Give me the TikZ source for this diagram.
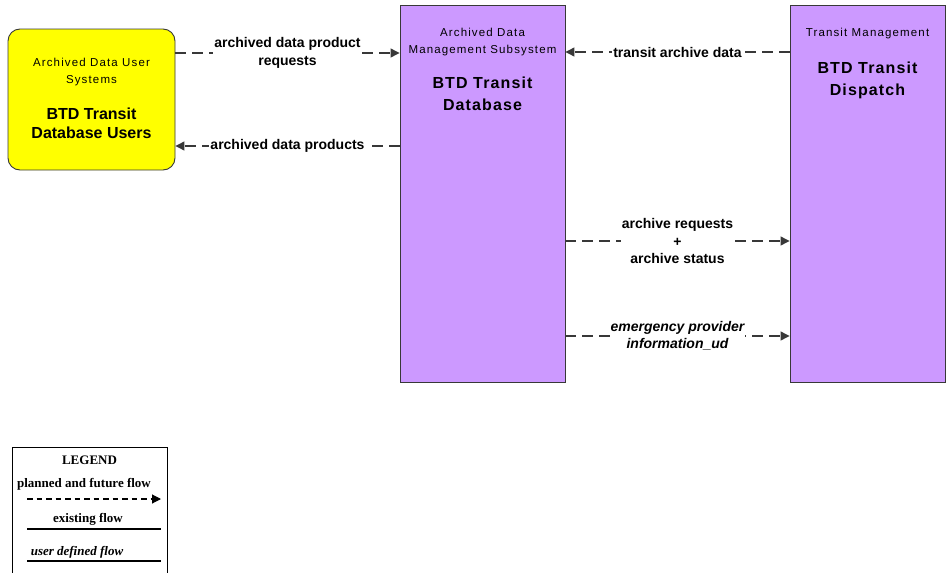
\documentclass[tikz,border=0pt]{standalone}
\usepackage{fontspec}
\setmainfont{Liberation Sans}
\newfontfamily\legendfont{Liberation Serif}
\newfontfamily\smallspaced[LetterSpace=10]{Liberation Sans}
\newfontfamily\titlespaced[LetterSpace=7]{Liberation Sans}
\usetikzlibrary{arrows.meta,positioning}
\definecolor{adsyellow}{HTML}{FFFF00}
\definecolor{adspurple}{HTML}{CC99FF}
\definecolor{flowgray}{HTML}{383838}

\begin{document}
\begin{tikzpicture}[x=1pt,y=-1pt,
  entity/.style={draw=flowgray,line width=0.9pt,fill=adspurple,
                 minimum height=377pt,inner sep=0pt},
  subsys/.style={font=\smallspaced\fontsize{11.5}{17}\selectfont,
                 align=center,inner sep=0pt},
  ename/.style={font=\titlespaced\bfseries\fontsize{16}{22}\selectfont,
                align=center,inner sep=0pt},
  flow/.style={draw=flowgray,line width=1.2pt,dash pattern=on 11pt off 6pt,
               -{Triangle[length=9pt,width=9pt]}},
  flowlabel/.style={font=\bfseries\fontsize{14}{17.5}\selectfont,fill=white,
                    inner sep=1pt,align=center},
  legendtxt/.style={font=\legendfont\bfseries\fontsize{13}{15}\selectfont,
                    inner sep=0pt}
]
\useasboundingbox (0,0) rectangle (946,573);
\clip (0,0) rectangle (946,573);

% terminators and subsystems
\node[draw=flowgray,line width=0.9pt,fill=adsyellow,rounded corners=12pt,
      minimum width=167pt,minimum height=141pt,inner sep=0pt] (uds) at (91.5,99.5) {};
\node[entity,minimum width=165pt] (db)   at (482.5,193.5) {};
\node[entity,minimum width=155pt] (disp) at (867.5,193.5) {};

\node[subsys,below=29pt of uds.north] (udsclass) {Archived Data User\\Systems};
\node[ename,font=\bfseries\fontsize{16}{19}\selectfont,below=79pt of uds.north] (udsname)
  {BTD Transit\\Database Users};
\node[subsys,below=23pt of db.north] (dbclass) {Archived Data\\Management Subsystem};
\node[ename,below=72pt of db.north] (dbname) {BTD Transit\\Database};
\node[subsys,below=23pt of disp.north] (dispclass) {Transit Management};
\node[ename,below=57pt of disp.north] (dispname) {BTD Transit\\Dispatch};

% flows
\draw[flow] (uds.east |- 0,53) -- node[flowlabel]{archived data product\\requests} (db.west |- 0,53);
\draw[flow] (db.west |- 0,146) -- node[flowlabel]{archived data products} (uds.east |- 0,146);
\draw[flow] (disp.west |- 0,52) -- node[flowlabel]{transit archive data} (db.east |- 0,52);
\draw[flow] (db.east |- 0,241) -- node[flowlabel]{archive requests\\+\\archive status} (disp.west |- 0,241);
\draw[flow] (db.east |- 0,336) -- node[flowlabel,font=\bfseries\itshape\fontsize{14}{17}\selectfont]
  {emergency provider\\information\_ud} (disp.west |- 0,336);

% legend
\node[draw=black,line width=0.9pt,minimum width=155pt,minimum height=140pt,
      inner sep=0pt,anchor=north] (legend) at (89.5,447) {};
\node[legendtxt] (lgtitle)    at (89.5,460) {LEGEND};
\node[legendtxt] (lgplanned)  at (84,484)   {planned and future flow};
\node[legendtxt] (lgexisting) at (88,519)   {existing flow};
\node[legendtxt,font=\legendfont\bfseries\itshape\fontsize{13}{15}\selectfont]
  (lguser) at (77,552) {user defined flow};
\coordinate (pfa) at (27,499);  \coordinate (pfb) at (161,499);
\coordinate (exa) at (27,529);  \coordinate (exb) at (161,529);
\coordinate (uda) at (27,561);  \coordinate (udb) at (161,561);
\draw[line width=1.1pt,dash pattern=on 5.5pt off 4pt,-{Triangle[length=9pt,width=9pt]}] (pfa) -- (pfb);
\draw[line width=1.3pt] (exa) -- (exb);
\draw[line width=1.3pt] (uda) -- (udb);
\end{tikzpicture}
\end{document}
